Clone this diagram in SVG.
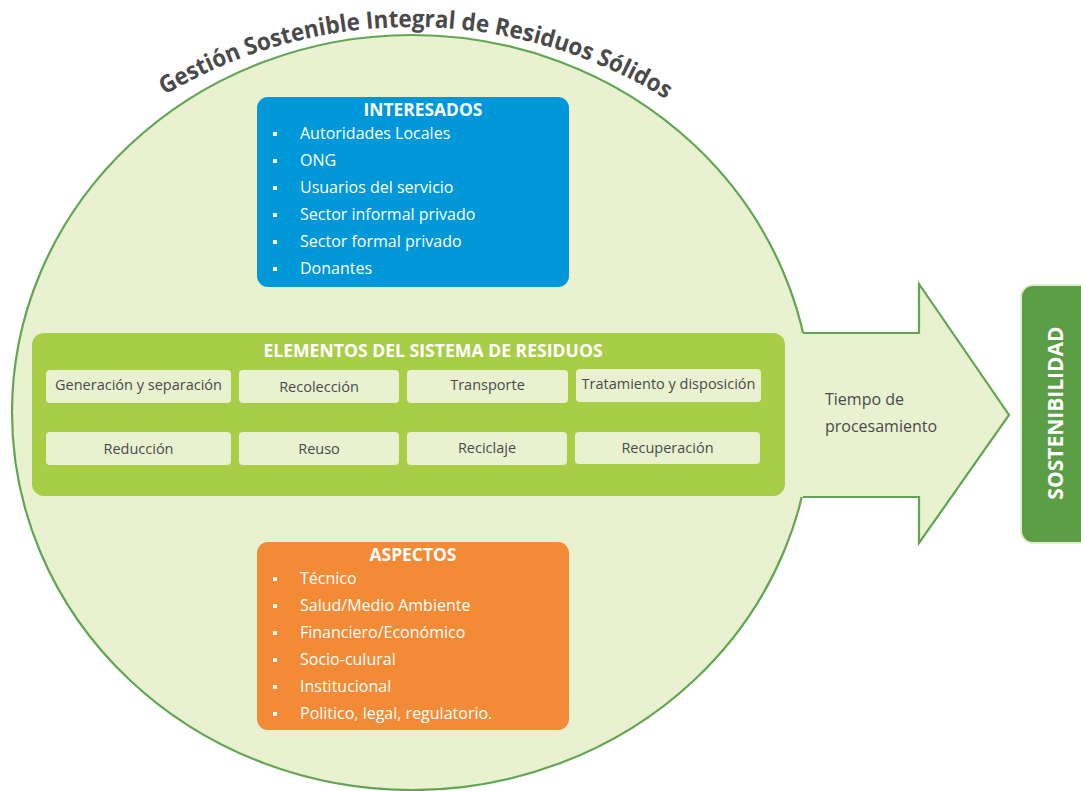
<svg xmlns="http://www.w3.org/2000/svg" width="1081" height="791" viewBox="0 0 1081 791">
<style>
.lt{fill:#e9f1d1}
.gs{stroke:#62a553;stroke-width:2.2;fill:none}
.hd{font-family:"Open Sans","Liberation Sans",sans-serif;font-weight:bold;fill:#ffffff;text-anchor:middle}
.it{font-family:"Open Sans","Liberation Sans",sans-serif;font-size:16px;fill:#ffffff}
.el{font-family:"Open Sans","Liberation Sans",sans-serif;font-size:14.5px;fill:#4a4a4a;text-anchor:middle}
.tp{font-family:"Open Sans","Liberation Sans",sans-serif;font-size:16px;fill:#4a4a4a}
.bl{fill:#ffffff}
.sub{fill:#e9f1d1}
</style>
<defs>
<path id="arc" d="M -71 510 A 483 483 0 0 1 895 510"/>
</defs>
<rect width="1081" height="791" fill="#ffffff"/>
<g id="circle">
<ellipse cx="412" cy="412.5" rx="400" ry="377.5" class="lt"/>
<ellipse cx="412" cy="412.5" rx="400" ry="377.5" class="gs"/>
</g>
<g id="title">
<text font-family="'Open Sans','Liberation Sans',sans-serif" font-weight="bold" font-size="24" fill="#4a4a4a" text-anchor="middle"><textPath href="#arc" startOffset="762.5" textLength="527" lengthAdjust="spacingAndGlyphs">Gestión Sostenible Integral de Residuos Sólidos</textPath></text>
</g>
<g id="connectors">
<g id="arrow">
<polygon points="792,333 919,333 919,284 1009,415 919,543 919,497 792,497" class="lt"/>
<polyline points="803,333 919,333 919,284 1009,415 919,543 919,497 803,497" class="gs" stroke-linejoin="miter"/>
<text class="tp" x="825" y="405">Tiempo de</text>
<text class="tp" x="825" y="432">procesamiento</text>
</g>
</g>
<g id="interesados">
<rect x="257" y="97" width="312" height="190" rx="11" fill="#0098d9"/>
<text class="hd" x="423" y="116" font-size="17.4">INTERESADOS</text>
<rect class="bl" x="273" y="132" width="4" height="4"/>
<rect class="bl" x="273" y="159" width="4" height="4"/>
<rect class="bl" x="273" y="186" width="4" height="4"/>
<rect class="bl" x="273" y="213" width="4" height="4"/>
<rect class="bl" x="273" y="240" width="4" height="4"/>
<rect class="bl" x="273" y="267" width="4" height="4"/>
<text class="it" x="300" y="139">Autoridades Locales</text>
<text class="it" x="300" y="166">ONG</text>
<text class="it" x="300" y="193">Usuarios del servicio</text>
<text class="it" x="300" y="220">Sector informal privado</text>
<text class="it" x="300" y="247">Sector formal privado</text>
<text class="it" x="300" y="274">Donantes</text>
</g>
<g id="elementos">
<rect x="32" y="333" width="753" height="163" rx="12" fill="#a8cd47"/>
<text class="hd" x="433" y="357" font-size="17.6">ELEMENTOS DEL SISTEMA DE RESIDUOS</text>
<rect class="sub" x="46" y="370" width="185" height="33" rx="4"/>
<rect class="sub" x="239" y="370" width="160" height="33" rx="4"/>
<rect class="sub" x="407" y="370" width="161" height="33" rx="4"/>
<rect class="sub" x="576" y="369" width="185" height="33" rx="4"/>
<rect class="sub" x="46" y="432" width="185" height="33" rx="4"/>
<rect class="sub" x="239" y="432" width="160" height="33" rx="4"/>
<rect class="sub" x="407" y="432" width="160" height="33" rx="4"/>
<rect class="sub" x="575" y="432" width="185" height="32" rx="4"/>
<text class="el" x="138.5" y="390">Generación y separación</text>
<text class="el" x="319" y="392">Recolección</text>
<text class="el" x="487.5" y="390">Transporte</text>
<text class="el" x="668.5" y="389">Tratamiento y disposición</text>
<text class="el" x="138.5" y="454">Reducción</text>
<text class="el" x="319" y="454">Reuso</text>
<text class="el" x="487" y="453">Reciclaje</text>
<text class="el" x="667.5" y="453">Recuperación</text>
</g>
<g id="aspectos">
<rect x="257" y="542" width="312" height="188" rx="11" fill="#f38a35"/>
<text class="hd" x="413" y="561" font-size="17.4">ASPECTOS</text>
<rect class="bl" x="273" y="577" width="4" height="4"/>
<rect class="bl" x="273" y="604" width="4" height="4"/>
<rect class="bl" x="273" y="631" width="4" height="4"/>
<rect class="bl" x="273" y="658" width="4" height="4"/>
<rect class="bl" x="273" y="685" width="4" height="4"/>
<rect class="bl" x="273" y="712" width="4" height="4"/>
<text class="it" x="300" y="584">Técnico</text>
<text class="it" x="300" y="611">Salud/Medio Ambiente</text>
<text class="it" x="300" y="638">Financiero/Económico</text>
<text class="it" x="300" y="665">Socio-culural</text>
<text class="it" x="300" y="692">Institucional</text>
<text class="it" x="300" y="719">Politico, legal, regulatorio.</text>
</g>
<g id="sostenibilidad">
<rect x="1021" y="285" width="80" height="258" rx="12" fill="#5c9e45" stroke="#e3edcc" stroke-width="2"/>
<text class="hd" font-size="21" transform="translate(1063,413) rotate(-90)">SOSTENIBILIDAD</text>
</g>
</svg>
